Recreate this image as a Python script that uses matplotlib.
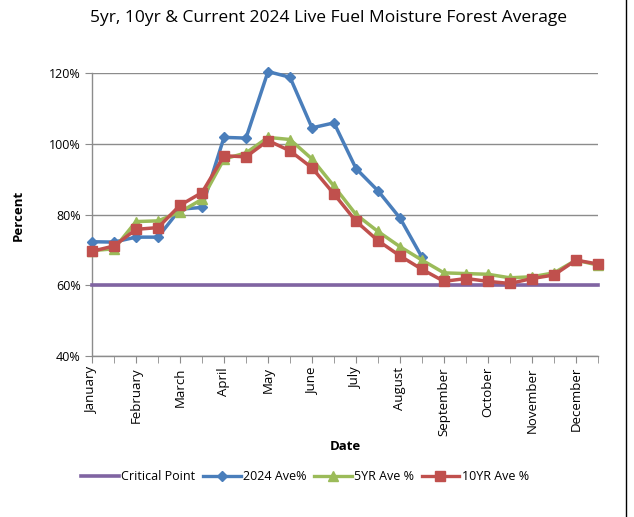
import matplotlib
matplotlib.use("Agg")
import matplotlib.pyplot as plt
from matplotlib.lines import Line2D

plt.rcParams['font.family'] = ['Open Sans', 'DejaVu Sans']

months = ["January", "February", "March", "April", "May", "June", "July",
          "August", "September", "October", "November", "December"]

critical = [60] * 24
ave2024 = [72.3, 72.2, 73.6, 73.6, 81.5, 82.0, 101.8, 101.6, 120.4, 118.8, 104.5, 105.9,
           93.0, 86.7, 79.0, 67.9]
yr5 = [69.8, 70.3, 78.0, 78.2, 80.7, 84.3, 95.7, 97.4, 101.8, 101.2, 95.7, 88.0,
       80.0, 75.2, 70.9, 67.1, 63.5, 63.3, 63.1, 62.1, 62.4, 63.5, 67.1, 65.7]
yr10 = [69.6, 71.1, 75.8, 76.3, 82.6, 86.2, 96.6, 96.3, 100.9, 98.0, 93.2, 85.8,
        78.1, 72.6, 68.3, 64.5, 61.1, 61.9, 61.1, 60.5, 61.9, 62.9, 67.1, 66.0]

W, H = 634, 517
fig = plt.figure(figsize=(W / 100, H / 100), dpi=100)
ax = fig.add_axes([92 / W, 1 - 356 / H, (598 - 92) / W, (356 - 73) / H])

blue = "#4A7EBB"
green = "#9BBB59"
red = "#C0504D"
purple = "#8064A2"

x24 = list(range(24))
ax.plot(x24, critical, color=purple, lw=2.6, zorder=3, clip_on=False)
ax.plot(range(len(ave2024)), ave2024, color=blue, lw=2.5, marker="D", ms=5,
        zorder=4, clip_on=False)
ax.plot(x24, yr5, color=green, lw=2.5, marker="^", ms=7, zorder=5, clip_on=False)
ax.plot(x24, yr10, color=red, lw=2.5, marker="s", ms=7, zorder=6, clip_on=False)

ax.set_xlim(0, 23)
ax.set_ylim(40, 120)
ax.set_yticks([40, 60, 80, 100, 120])
ax.set_yticklabels(["40%", "60%", "80%", "100%", "120%"], fontsize=9)
ax.yaxis.grid(True, color="#8C8C8C", lw=1)
ax.set_axisbelow(True)

ax.set_xticks(range(0, 24, 2))
ax.set_xticklabels(months, rotation=90, fontsize=9.5, va="top")
ax.set_xticks(range(24), minor=True)
ax.tick_params(axis="x", which="both", length=5, color="#8C8C8C", direction="out", pad=3)
ax.tick_params(axis="y", length=5, color="#8C8C8C", direction="out", pad=3)

for s in ["top", "right"]:
    ax.spines[s].set_visible(False)
for s in ["left", "bottom"]:
    ax.spines[s].set_color("#8C8C8C")
    ax.spines[s].set_linewidth(1)

fig.text(328 / W, 1 - 18 / H, "5yr, 10yr & Current 2024 Live Fuel Moisture Forest Average",
         ha="center", va="center", fontsize=12.5)
fig.text(18 / W, 1 - 215 / H, "Percent", rotation=90, ha="center", va="center",
         fontsize=9.5, fontweight="bold")
fig.text(345 / W, 1 - 447 / H, "Date", ha="center", va="center",
         fontsize=9.5, fontweight="bold")

handles = [
    Line2D([], [], color=purple, lw=2.6),
    Line2D([], [], color=blue, lw=2.4, marker="D", ms=5),
    Line2D([], [], color=green, lw=2.4, marker="^", ms=6.5),
    Line2D([], [], color=red, lw=2.4, marker="s", ms=6.5),
]
labels = ["Critical Point", "2024 Ave%", "5YR Ave %", "10YR Ave %"]
fig.legend(handles, labels, loc="center", bbox_to_anchor=(305 / W, 1 - 477 / H),
           ncol=4, frameon=False, fontsize=9, handlelength=3, handletextpad=0.2,
           columnspacing=0.6)

fig.add_artist(Line2D([626 / W, 626 / W], [0, 1], color="black", lw=1))

fig.savefig("out.png", dpi=100)
